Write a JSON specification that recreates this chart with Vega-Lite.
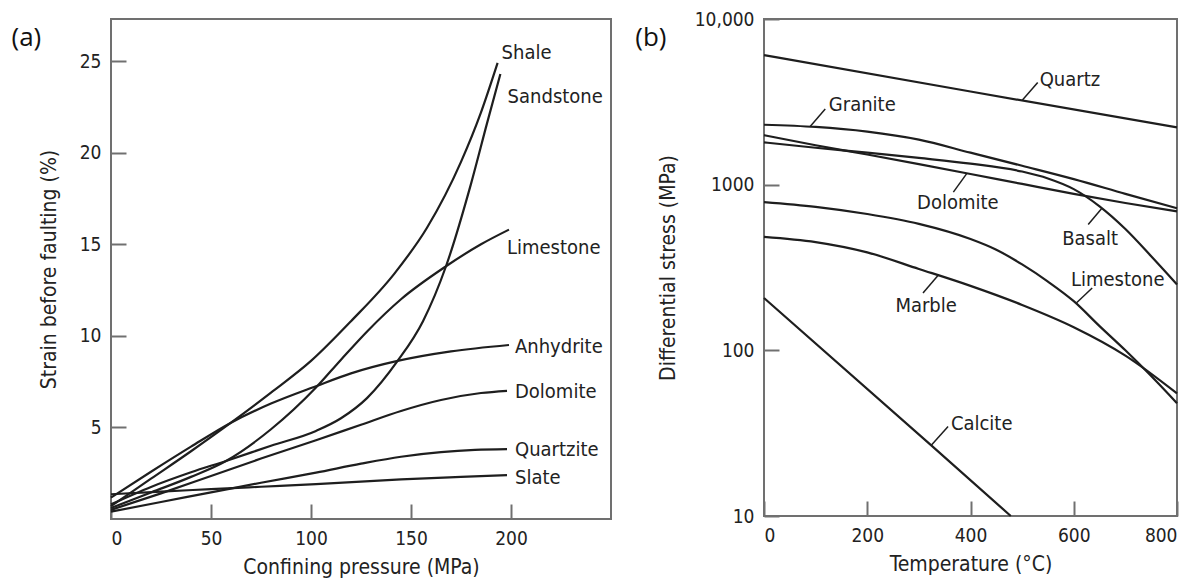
{
  "$schema": "https://vega.github.io/schema/vega-lite/v6.json",
  "background": "white",
  "padding": {"left": 10, "top": 9, "right": 5, "bottom": 5},
  "spacing": 153,
  "bounds": "flush",
  "config": {
    "view": {"stroke": "#707070", "strokeWidth": 2},
    "font": "DejaVu Sans Condensed",
    "axis": {
      "domain": false, "grid": false,
      "tickColor": "#707070", "tickWidth": 2, "tickSize": -15,
      "labelFont": "DejaVu Sans Condensed", "labelFontSize": 19, "labelColor": "#222",
      "labelPadding": 25,
      "titleFont": "DejaVu Sans Condensed", "titleFontSize": 21, "titleFontWeight": "normal", "titleColor": "#222"
    },
    "axisX": {"titlePadding": 8},
    "axisY": {"titlePadding": 20}
  },
  "datasets": {
    "strain": [
      {"rock": "Shale", "p": 0, "s": 0.7}, {"rock": "Shale", "p": 20, "s": 2.2}, {"rock": "Shale", "p": 40, "s": 3.7}, {"rock": "Shale", "p": 60, "s": 5.26}, {"rock": "Shale", "p": 80, "s": 6.9}, {"rock": "Shale", "p": 100, "s": 8.63}, {"rock": "Shale", "p": 120, "s": 10.8}, {"rock": "Shale", "p": 141.7, "s": 13.4}, {"rock": "Shale", "p": 158, "s": 15.9}, {"rock": "Shale", "p": 175, "s": 19.5}, {"rock": "Shale", "p": 185, "s": 22.2}, {"rock": "Shale", "p": 193.3, "s": 24.9},
      {"rock": "Sandstone", "p": 0, "s": 0.8}, {"rock": "Sandstone", "p": 20, "s": 1.75}, {"rock": "Sandstone", "p": 40, "s": 2.55}, {"rock": "Sandstone", "p": 57.5, "s": 3.17}, {"rock": "Sandstone", "p": 80, "s": 4.0}, {"rock": "Sandstone", "p": 102.5, "s": 4.81}, {"rock": "Sandstone", "p": 115, "s": 5.5}, {"rock": "Sandstone", "p": 128, "s": 6.6}, {"rock": "Sandstone", "p": 143.3, "s": 8.63}, {"rock": "Sandstone", "p": 156, "s": 10.8}, {"rock": "Sandstone", "p": 167.5, "s": 13.8}, {"rock": "Sandstone", "p": 180, "s": 18.3}, {"rock": "Sandstone", "p": 188, "s": 21.6}, {"rock": "Sandstone", "p": 194.7, "s": 24.3},
      {"rock": "Limestone", "p": 0, "s": 0.6}, {"rock": "Limestone", "p": 20, "s": 1.45}, {"rock": "Limestone", "p": 40, "s": 2.3}, {"rock": "Limestone", "p": 57.5, "s": 3.17}, {"rock": "Limestone", "p": 80, "s": 4.9}, {"rock": "Limestone", "p": 102.5, "s": 7.18}, {"rock": "Limestone", "p": 115, "s": 8.7}, {"rock": "Limestone", "p": 128.3, "s": 10.27}, {"rock": "Limestone", "p": 145, "s": 12.0}, {"rock": "Limestone", "p": 167.5, "s": 13.8}, {"rock": "Limestone", "p": 185, "s": 15.0}, {"rock": "Limestone", "p": 199, "s": 15.8},
      {"rock": "Anhydrite", "p": 0, "s": 1.17}, {"rock": "Anhydrite", "p": 20, "s": 2.58}, {"rock": "Anhydrite", "p": 40, "s": 3.95}, {"rock": "Anhydrite", "p": 60, "s": 5.26}, {"rock": "Anhydrite", "p": 80, "s": 6.3}, {"rock": "Anhydrite", "p": 102.5, "s": 7.25}, {"rock": "Anhydrite", "p": 120, "s": 7.95}, {"rock": "Anhydrite", "p": 143.3, "s": 8.63}, {"rock": "Anhydrite", "p": 170, "s": 9.15}, {"rock": "Anhydrite", "p": 199, "s": 9.5},
      {"rock": "Dolomite", "p": 0, "s": 0.5}, {"rock": "Dolomite", "p": 25, "s": 1.4}, {"rock": "Dolomite", "p": 50, "s": 2.35}, {"rock": "Dolomite", "p": 75, "s": 3.3}, {"rock": "Dolomite", "p": 102.5, "s": 4.3}, {"rock": "Dolomite", "p": 125, "s": 5.15}, {"rock": "Dolomite", "p": 145, "s": 5.9}, {"rock": "Dolomite", "p": 165, "s": 6.5}, {"rock": "Dolomite", "p": 185, "s": 6.88}, {"rock": "Dolomite", "p": 198, "s": 7.0},
      {"rock": "Quartzite", "p": 0, "s": 0.4}, {"rock": "Quartzite", "p": 25, "s": 0.93}, {"rock": "Quartzite", "p": 50, "s": 1.45}, {"rock": "Quartzite", "p": 75, "s": 1.98}, {"rock": "Quartzite", "p": 102.5, "s": 2.53}, {"rock": "Quartzite", "p": 125, "s": 3.02}, {"rock": "Quartzite", "p": 145, "s": 3.4}, {"rock": "Quartzite", "p": 165, "s": 3.65}, {"rock": "Quartzite", "p": 182, "s": 3.77}, {"rock": "Quartzite", "p": 198, "s": 3.81},
      {"rock": "Slate", "p": 0, "s": 1.35}, {"rock": "Slate", "p": 25, "s": 1.5}, {"rock": "Slate", "p": 50, "s": 1.63}, {"rock": "Slate", "p": 75, "s": 1.76}, {"rock": "Slate", "p": 102.5, "s": 1.9}, {"rock": "Slate", "p": 145, "s": 2.16}, {"rock": "Slate", "p": 175, "s": 2.3}, {"rock": "Slate", "p": 198, "s": 2.4}
    ],
    "strainLabels": [
      {"rock": "Shale", "p": 195.3, "s": 25.12},
      {"rock": "Sandstone", "p": 198.3, "s": 22.7},
      {"rock": "Limestone", "p": 198, "s": 14.46},
      {"rock": "Anhydrite", "p": 202, "s": 9.09},
      {"rock": "Dolomite", "p": 202, "s": 6.6},
      {"rock": "Quartzite", "p": 202, "s": 3.44},
      {"rock": "Slate", "p": 202, "s": 1.93}
    ],
    "stress": [
      {"rock": "Quartz", "t": 0, "sigma": 6050}, {"rock": "Quartz", "t": 400, "sigma": 3650}, {"rock": "Quartz", "t": 800, "sigma": 2215},
      {"rock": "Granite", "t": 0, "sigma": 2300}, {"rock": "Granite", "t": 100, "sigma": 2230}, {"rock": "Granite", "t": 200, "sigma": 2090}, {"rock": "Granite", "t": 300, "sigma": 1870}, {"rock": "Granite", "t": 400, "sigma": 1560}, {"rock": "Granite", "t": 500, "sigma": 1300}, {"rock": "Granite", "t": 600, "sigma": 1080}, {"rock": "Granite", "t": 700, "sigma": 880}, {"rock": "Granite", "t": 800, "sigma": 720},
      {"rock": "Dolomite", "t": 0, "sigma": 1990}, {"rock": "Dolomite", "t": 100, "sigma": 1730}, {"rock": "Dolomite", "t": 200, "sigma": 1520}, {"rock": "Dolomite", "t": 300, "sigma": 1330}, {"rock": "Dolomite", "t": 400, "sigma": 1160}, {"rock": "Dolomite", "t": 500, "sigma": 1010}, {"rock": "Dolomite", "t": 600, "sigma": 880}, {"rock": "Dolomite", "t": 700, "sigma": 775}, {"rock": "Dolomite", "t": 800, "sigma": 690},
      {"rock": "Basalt", "t": 0, "sigma": 1800}, {"rock": "Basalt", "t": 100, "sigma": 1670}, {"rock": "Basalt", "t": 200, "sigma": 1560}, {"rock": "Basalt", "t": 300, "sigma": 1450}, {"rock": "Basalt", "t": 400, "sigma": 1340}, {"rock": "Basalt", "t": 500, "sigma": 1200}, {"rock": "Basalt", "t": 550, "sigma": 1090}, {"rock": "Basalt", "t": 600, "sigma": 940}, {"rock": "Basalt", "t": 650, "sigma": 740}, {"rock": "Basalt", "t": 700, "sigma": 540}, {"rock": "Basalt", "t": 750, "sigma": 370}, {"rock": "Basalt", "t": 800, "sigma": 250},
      {"rock": "Limestone", "t": 0, "sigma": 785}, {"rock": "Limestone", "t": 100, "sigma": 735}, {"rock": "Limestone", "t": 200, "sigma": 665}, {"rock": "Limestone", "t": 300, "sigma": 580}, {"rock": "Limestone", "t": 400, "sigma": 470}, {"rock": "Limestone", "t": 450, "sigma": 405}, {"rock": "Limestone", "t": 500, "sigma": 330}, {"rock": "Limestone", "t": 550, "sigma": 260}, {"rock": "Limestone", "t": 600, "sigma": 198}, {"rock": "Limestone", "t": 650, "sigma": 140}, {"rock": "Limestone", "t": 700, "sigma": 100}, {"rock": "Limestone", "t": 750, "sigma": 70}, {"rock": "Limestone", "t": 800, "sigma": 48},
      {"rock": "Marble", "t": 0, "sigma": 484}, {"rock": "Marble", "t": 100, "sigma": 450}, {"rock": "Marble", "t": 200, "sigma": 390}, {"rock": "Marble", "t": 300, "sigma": 310}, {"rock": "Marble", "t": 400, "sigma": 245}, {"rock": "Marble", "t": 500, "sigma": 188}, {"rock": "Marble", "t": 600, "sigma": 138}, {"rock": "Marble", "t": 700, "sigma": 93}, {"rock": "Marble", "t": 800, "sigma": 55},
      {"rock": "Calcite", "t": 0, "sigma": 207}, {"rock": "Calcite", "t": 324, "sigma": 26.7}, {"rock": "Calcite", "t": 478, "sigma": 10}
    ],
    "stressLabels": [
      {"rock": "Quartz", "t": 534, "sigma": 3953, "t1": 500.6, "s1": 3240, "t2": 530.2, "s2": 4140},
      {"rock": "Granite", "t": 125.6, "sigma": 2773, "t1": 89, "s1": 2240, "t2": 118.6, "s2": 2858},
      {"rock": "Dolomite", "t": 296.5, "sigma": 714, "t1": 393, "s1": 1170, "t2": 366.8, "s2": 902},
      {"rock": "Basalt", "t": 577.5, "sigma": 435, "t1": 653.7, "s1": 716, "t2": 628, "s2": 575},
      {"rock": "Limestone", "t": 594.6, "sigma": 245, "t1": 605, "s1": 193, "t2": 635.7, "s2": 238},
      {"rock": "Marble", "t": 254.5, "sigma": 170, "t1": 337, "s1": 283, "t2": 308, "s2": 222},
      {"rock": "Calcite", "t": 362, "sigma": 33.1, "t1": 324, "s1": 26.7, "t2": 356.6, "s2": 34.7}
    ],
    "panels": [
      {"panel": "(a)", "p": -49.75, "s": 25.85},
      {"panel": "(b)", "t": -249.4, "sigma": 6918}
    ]
  },
  "hconcat": [
    {
      "width": 500, "height": 500,
      "layer": [
        {
          "data": {"name": "strain"},
          "mark": {"type": "line", "interpolate": "monotone", "color": "#1e1e1e", "strokeWidth": 2.2},
          "encoding": {
            "x": {"field": "p", "type": "quantitative", "scale": {"domain": [0, 250], "nice": false}, "axis": {"values": [0, 50, 100, 150, 200], "title": "Confining pressure (MPa)"}},
            "y": {"field": "s", "type": "quantitative", "scale": {"domain": [0, 27.3], "nice": false}, "axis": {"values": [5, 10, 15, 20, 25], "title": "Strain before faulting (%)"}},
            "detail": {"field": "rock"}
          }
        },
        {
          "data": {"name": "strainLabels"},
          "mark": {"type": "text", "align": "left", "baseline": "alphabetic", "font": "DejaVu Sans Condensed", "fontSize": 20, "color": "#222"},
          "encoding": {
            "x": {"field": "p", "type": "quantitative"},
            "y": {"field": "s", "type": "quantitative"},
            "text": {"field": "rock"}
          }
        },
        {
          "data": {"name": "panels"},
          "transform": [{"filter": "datum.panel == '(a)'"}],
          "mark": {"type": "text", "align": "left", "baseline": "alphabetic", "font": "Open Sans", "fontSize": 26, "color": "#111", "clip": false},
          "encoding": {
            "x": {"field": "p", "type": "quantitative"},
            "y": {"field": "s", "type": "quantitative"},
            "text": {"field": "panel"}
          }
        }
      ]
    },
    {
      "width": 413, "height": 497,
      "layer": [
        {
          "data": {"name": "stress"},
          "mark": {"type": "line", "interpolate": "monotone", "color": "#1e1e1e", "strokeWidth": 2.2},
          "encoding": {
            "x": {"field": "t", "type": "quantitative", "scale": {"domain": [0, 800], "nice": false}, "axis": {"values": [0, 200, 400, 600, 800], "title": "Temperature (°C)"}},
            "y": {"field": "sigma", "type": "quantitative", "scale": {"type": "log", "domain": [10, 10000], "nice": false}, "axis": {"values": [10, 100, 1000, 10000], "labelExpr": "datum.value == 10000 ? '10,000' : format(datum.value, 'd')", "title": "Differential stress (MPa)", "titlePadding": 16}},
            "detail": {"field": "rock"}
          }
        },
        {
          "data": {"name": "stressLabels"},
          "mark": {"type": "rule", "color": "#1e1e1e", "strokeWidth": 1.5},
          "encoding": {
            "x": {"field": "t1", "type": "quantitative"},
            "y": {"field": "s1", "type": "quantitative"},
            "x2": {"field": "t2"},
            "y2": {"field": "s2"}
          }
        },
        {
          "data": {"name": "stressLabels"},
          "mark": {"type": "text", "align": "left", "baseline": "alphabetic", "font": "DejaVu Sans Condensed", "fontSize": 20, "color": "#222"},
          "encoding": {
            "x": {"field": "t", "type": "quantitative"},
            "y": {"field": "sigma", "type": "quantitative"},
            "text": {"field": "rock"}
          }
        },
        {
          "data": {"name": "panels"},
          "transform": [{"filter": "datum.panel == '(b)'"}],
          "mark": {"type": "text", "align": "left", "baseline": "alphabetic", "font": "Open Sans", "fontSize": 26, "color": "#111", "clip": false},
          "encoding": {
            "x": {"field": "t", "type": "quantitative"},
            "y": {"field": "sigma", "type": "quantitative"},
            "text": {"field": "panel"}
          }
        }
      ]
    }
  ]
}
